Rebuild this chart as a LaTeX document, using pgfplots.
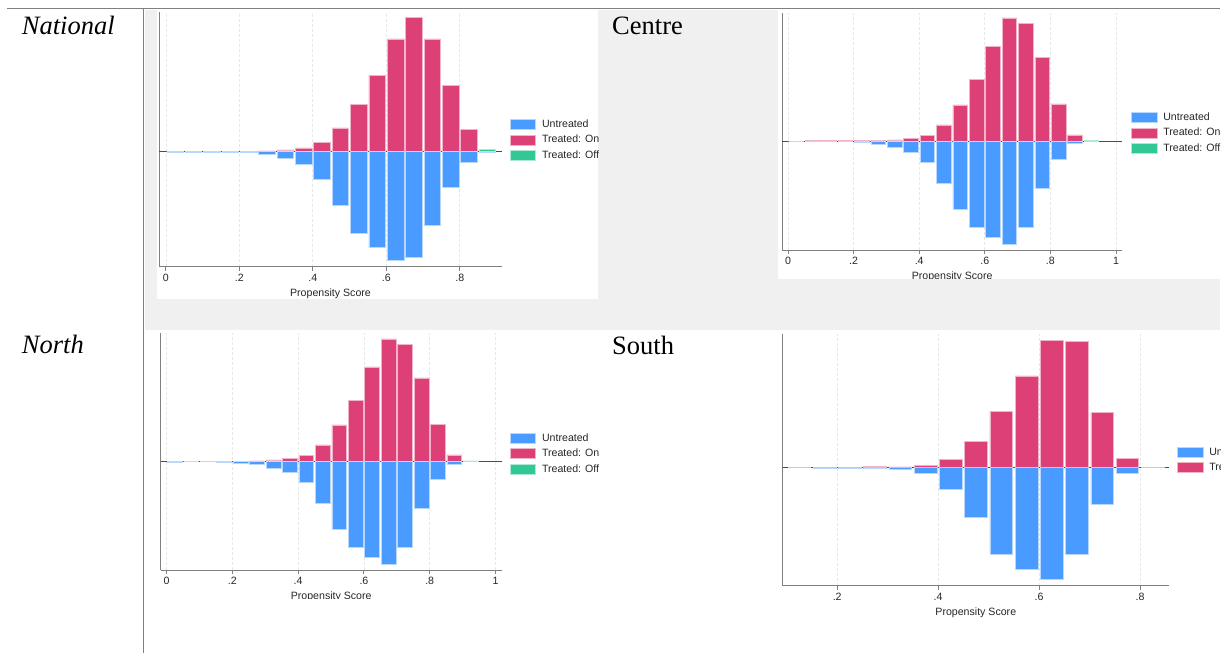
\documentclass[border=0pt]{standalone}
\usepackage{fontspec}
\setmainfont{Liberation Serif}
\newfontfamily\stfont{Liberation Sans}
\usepackage{pgfplots}
\pgfplotsset{compat=1.18}
\usepackage{pgfplotstable}
\definecolor{stblue}{RGB}{74,155,255}
\definecolor{stred}{RGB}{220,64,118}
\definecolor{stgreen}{RGB}{50,200,150}
\definecolor{bggray}{RGB}{240,240,240}
\definecolor{rulegray}{RGB}{128,128,128}
\newcommand\stsize{\stfont\fontsize{10.6}{12.7}\selectfont}

% National
\pgfplotstableread{
x u t o
0.025 -0.7 0 0
0.075 -0.3 0.5 0
0.125 -0.7 0.5 0
0.175 -0.7 0.5 0
0.225 -1.0 0.5 0
0.275 -2.3 0.8 0
0.325 -6.7 1.7 0
0.375 -13.0 3.7 0
0.425 -27.3 9.0 0
0.475 -53.3 23.7 0
0.525 -81.7 47.3 0
0.575 -95.7 76.3 0
0.625 -108.7 112.7 0
0.675 -105.3 134.3 0
0.725 -74.0 112.7 0
0.775 -35.3 66.0 0
0.825 -11.0 22.3 0
0.875 -0.7 0.5 2.3
}\natdata
% Centre
\pgfplotstableread{
x u t o
0.025 -0.5 0 0
0.075 0 0.5 0
0.125 0 0.5 0
0.175 -0.5 0.5 0
0.225 -1.3 1.0 0
0.275 -2.7 0.7 0
0.325 -6.3 1.3 0
0.375 -10.7 3.0 0
0.425 -21.0 6.0 0
0.475 -42.0 16.3 0
0.525 -67.7 36.3 0
0.575 -85.7 61.7 0
0.625 -96.3 95.0 0
0.675 -103.0 123.3 0
0.725 -85.7 118.0 0
0.775 -47.3 84.0 0
0.825 -17.7 37.3 0
0.875 -2.3 6.3 0
0.925 0 0 0.7
}\cendata
% North
\pgfplotstableread{
x u t o
0.025 -0.5 0 0
0.075 0 0.4 0
0.125 0 0.4 0
0.175 -0.5 0.4 0
0.225 -1.3 0.3 0
0.275 -2.7 0.7 0
0.325 -6.7 1.7 0
0.375 -10.7 3.0 0
0.425 -21.0 6.0 0
0.475 -42.0 16.7 0
0.525 -67.7 36.7 0
0.575 -85.3 61.3 0
0.625 -96.0 94.7 0
0.675 -102.7 122.7 0
0.725 -85.3 117.3 0
0.775 -47.0 83.7 0
0.825 -17.7 37.3 0
0.875 -2.7 6.7 0
0.925 0 0 0.7
}\nordata
% South
\pgfplotstableread{
x u t
0.125 0 0.5
0.175 -0.5 0.5
0.225 -0.5 0.5
0.275 -0.5 1.0
0.325 -1.7 0.7
0.375 -5.7 2.3
0.425 -22.0 8.0
0.475 -49.7 26.3
0.525 -86.3 56.3
0.575 -101.7 91.7
0.625 -111.3 127.3
0.675 -87.0 126.0
0.725 -36.3 55.3
0.775 -5.7 9.0
0.825 0 0.5
}\soudata

\pgfplotsset{
  stbase/.style={
    scale only axis,
    axis x line*=bottom, axis y line*=left,
    axis line style={draw=black!50, line width=0.9pt},
    ytick=\empty,
    extra y ticks={0}, extra y tick labels={},
    extra y tick style={grid=major, major tick length=0pt,
      major grid style={solid, draw=black!70, line width=0.9pt}},
    xmajorgrids=true,
    major grid style={densely dashed, draw=black!9, line width=0.8pt},
    tick align=outside, major tick length=4pt,
    xtick style={draw=black!50, line width=0.9pt},
    tick label style={font=\stsize, text=black!85},
    /pgf/number format/assume math mode=true,
    xlabel={Propensity Score},
    xlabel style={font=\stsize, text=black!85},
    legend cell align=left,
    legend style={draw=none, fill=none, font=\stsize, text=black!85,
      row sep=5pt, column sep=6pt, inner sep=0pt, outer sep=0pt,
      nodes={inner sep=0pt, outer sep=0pt}, anchor=north west},
    legend image code/.code={\fill[##1] (0pt,-5pt) rectangle (25.5pt,5pt);},
  },
  stbar/.style={ybar, bar shift=0pt, bar width=0.045, fill=#1, draw=#1!40, line width=0.6pt},
}

\begin{document}
\begin{tikzpicture}[x=1pt,y=1pt]
\useasboundingbox (0,0) rectangle (1229,653);
\fill[white] (0,0) rectangle (1229,653);
\fill[bggray] (145,323) rectangle (1220,643);
\fill[white] (157,353.5) rectangle (598,643);
\fill[white] (778,374) rectangle (1220,643);
\draw[rulegray, line width=1.5pt] (7,644.7) -- (1220,644.7);
\draw[rulegray, line width=1.5pt] (143.3,644.7) -- (143.3,0);

\node[anchor=base west, inner sep=0pt, font=\fontsize{26.5}{30}\selectfont\itshape] at (21.7,618) {National};
\node[anchor=base west, inner sep=0pt, font=\fontsize{26.5}{30}\selectfont] at (612,618.5) {Centre};
\node[anchor=base west, inner sep=0pt, font=\fontsize{26.5}{30}\selectfont\itshape] at (21.7,299) {North};
\node[anchor=base west, inner sep=0pt, font=\fontsize{26.5}{30}\selectfont] at (612,298) {South};

% National
\begin{scope}
\clip (157,353.5) rectangle (598,643);
\begin{axis}[stbase, at={(159.3pt,386.3pt)}, anchor=south west,
  width=342.4pt, height=255pt, xmin=-0.018, xmax=0.914, ymin=-115, ymax=140,
  xtick={0,0.2,0.4,0.6,0.8}, xticklabels={0,.2,.4,.6,.8},
  legend style={at={(1.0242,0.5792)}}]
\addplot[stbar=stblue] table[x=x,y=u]{\natdata};
\addplot[stbar=stred] table[x=x,y=t]{\natdata};
\addplot[stbar=stgreen] table[x=x,y=o]{\natdata};
\legend{Untreated, Treated: On, Treated: Off}
\end{axis}
\end{scope}

% Centre
\begin{scope}
\clip (778,374) rectangle (1220,643);
\begin{axis}[stbase, at={(782pt,403pt)}, anchor=south west,
  width=340.4pt, height=237.3pt, xmin=-0.0183, xmax=1.0195, ymin=-108.7, ymax=128.6,
  xtick={0,0.2,0.4,0.6,0.8,1}, xticklabels={0,.2,.4,.6,.8,1},
  legend style={at={(1.0259,0.5815)}}]
\addplot[stbar=stblue] table[x=x,y=u]{\cendata};
\addplot[stbar=stred] table[x=x,y=t]{\cendata};
\addplot[stbar=stgreen] table[x=x,y=o]{\cendata};
\legend{Untreated, Treated: On, Treated: Off}
\end{axis}
\end{scope}

% North
\begin{scope}
\clip (157,54) rectangle (598,323);
\begin{axis}[stbase, at={(160.7pt,83pt)}, anchor=south west,
  width=341pt, height=236.7pt, xmin=-0.018, xmax=1.019, ymin=-108.3, ymax=128.3,
  xtick={0,0.2,0.4,0.6,0.8,1}, xticklabels={0,.2,.4,.6,.8,1},
  legend style={at={(1.0243,0.580)}}]
\addplot[stbar=stblue] table[x=x,y=u]{\nordata};
\addplot[stbar=stred] table[x=x,y=t]{\nordata};
\addplot[stbar=stgreen] table[x=x,y=o]{\nordata};
\legend{Untreated, Treated: On, Treated: Off}
\end{axis}
\end{scope}

% South
\begin{scope}
\clip (778,0) rectangle (1220,323);
\begin{axis}[stbase, at={(782.8pt,67.3pt)}, anchor=south west,
  width=386pt, height=251.4pt, xmin=0.0922, xmax=0.857, ymin=-118, ymax=133.4,
  xtick={0.2,0.4,0.6,0.8}, xticklabels={.2,.4,.6,.8},
  legend style={at={(1.0218,0.5505)}, row sep=4.4pt}]
\addplot[stbar=stblue] table[x=x,y=u]{\soudata};
\addplot[stbar=stred] table[x=x,y=t]{\soudata};
\legend{Untreated, Treated: On}
\end{axis}
\end{scope}
\end{tikzpicture}
\end{document}
